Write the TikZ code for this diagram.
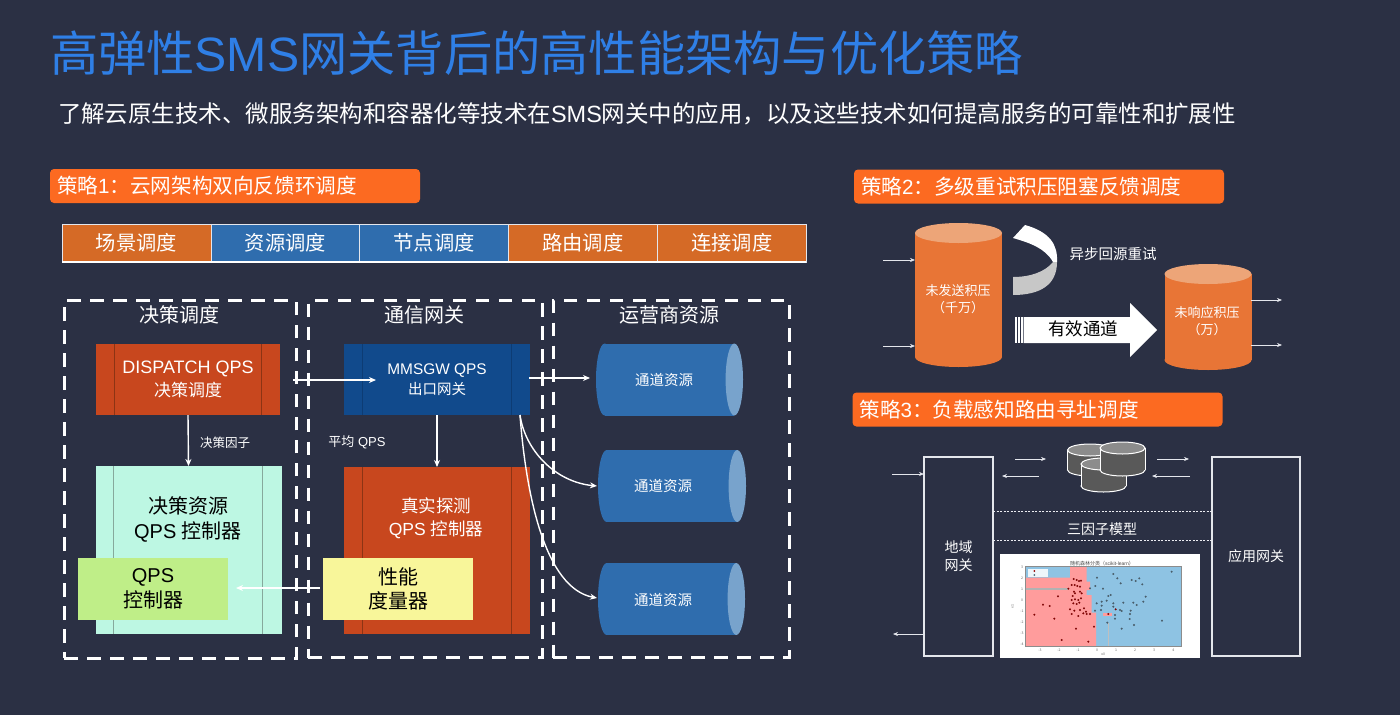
\documentclass[tikz,border=0pt]{standalone}
\usepackage{fontspec}
\setmainfont{Noto Sans CJK SC}
\newfontfamily\latinfont{Liberation Sans}
\usepackage{xcolor}
\usetikzlibrary{arrows.meta}
\definecolor{slidebg}{HTML}{2B3044}
\definecolor{titleblue}{HTML}{2F7FE6}
\definecolor{tagorange}{HTML}{FC6A21}
\definecolor{cellorange}{HTML}{D56A26}
\definecolor{cellblue}{HTML}{2F6DAE}
\definecolor{redbox}{HTML}{C8471E}
\definecolor{redbar}{HTML}{8C3414}
\definecolor{navybox}{HTML}{114A8C}
\definecolor{navybar}{HTML}{0D3C74}
\definecolor{tealbox}{HTML}{BDF7E3}
\definecolor{tealbar}{HTML}{86A99C}
\definecolor{greenbox}{HTML}{BFEE88}
\definecolor{yellowbox}{HTML}{F8F69A}
\definecolor{tankbody}{HTML}{E87536}
\definecolor{tanktop}{HTML}{EDA578}
\definecolor{channelend}{HTML}{78A3CC}
\definecolor{softwhite}{HTML}{E4E6EC}
\definecolor{chartblue}{HTML}{8EC3E3}
\definecolor{chartred}{HTML}{FF9C9C}
\newcommand{\fsz}[1]{\fontsize{#1}{#1}\selectfont}
\newcommand{\lat}[1]{{\latinfont #1}}
% lying drum: left x, right x, centre y
\newcommand{\channeldrum}[3]{
 \fill[cellblue] (#1+8.7,#3) ellipse (8.7pt and 36pt);
 \fill[cellblue] (#1+8.7,#3-36) rectangle (#2-8.7,#3+36);
 \fill[channelend] (#2-8.7,#3) ellipse (8.7pt and 36pt);
}
% standing drum: centre x, top y, bottom y
\newcommand{\tankdrum}[3]{
 \fill[tankbody] (#1,#3-10) ellipse (43.5pt and 10pt);
 \fill[tankbody] (#1-43.5,#2+10) rectangle (#1+43.5,#3-10);
 \fill[tanktop] (#1,#2+10) ellipse (43.5pt and 10pt);
}
\newcommand{\diskdrum}[3]{
 \draw[diskline,fill=black!65] (#1,#3-6) ellipse (22.5pt and 6pt);
 \fill[black!65] (#1-22.5,#2+6) rectangle (#1+22.5,#3-6);
 \draw[diskline] (#1-22.5,#2+6)--(#1-22.5,#3-6) (#1+22.5,#2+6)--(#1+22.5,#3-6);
 \draw[diskline,fill=black!45] (#1,#2+6) ellipse (22.5pt and 6pt);
}
\tikzset{
 every node/.style={inner sep=0pt,outer sep=0pt,text=white},
 zonebox/.style={draw=white,line width=3pt,dash pattern=on 13.5pt off 9.5pt},
 tagbox/.style={fill=tagorange,rounded corners=4pt,minimum width=370,minimum height=34,
  text width=356,align=left,font=\fsz{20.6}},
 schedcell/.style={draw=softwhite,line width=.8pt,minimum width=148.8,minimum height=38,font=\fsz{20.3}},
 procbox/.style={minimum width=186,minimum height=71,align=center,
  path picture={\draw[#1]
   ([xshift=18pt]path picture bounding box.north west)--([xshift=18pt]path picture bounding box.south west)
   ([xshift=-19pt]path picture bounding box.north east)--([xshift=-19pt]path picture bounding box.south east);}},
 notebox/.style={minimum width=150,minimum height=62,text=black,font=\fsz{20},align=center},
 link/.style={draw=white,line width=1.4pt,-{Stealth[length=7pt,width=6pt]}},
 thinlink/.style={draw=softwhite,line width=.6pt,-{Stealth[length=5pt,width=4pt]}},
 diskline/.style={draw=white,line width=1pt},
 gatebox/.style={draw=softwhite,line width=1.3pt,minimum height=199,font=\fsz{14},align=center},
 redpt/.style={fill=red!60!black,draw=red!40!black,line width=.15pt},
 bluept/.style={fill=cyan!40!black,draw=cyan!25!black,line width=.15pt},
 ticklabel/.style={text=black!60,font=\fsz{3.5}}
}
\begin{document}
\begin{tikzpicture}[x=1pt,y=-1pt]
 \fill[slidebg] (0,0) rectangle (1400,715);
 \useasboundingbox (0,0) rectangle (1400,715);
 \node[anchor=west,text=titleblue,font=\fsz{48.25}] (title) at (50,53) {高弹性\lat{SMS}网关背后的高性能架构与优化策略};
 \node[anchor=west,font=\fsz{23.48}] (subtitle) at (58,114) {了解云原生技术、微服务架构和容器化等技术在\lat{SMS}网关中的应用，以及这些技术如何提高服务的可靠性和扩展性};
 \node[tagbox] (tag1) at (235,186) {策略\lat{1}：云网架构双向反馈环调度};
 \node[tagbox] (tag2) at (1039,186.5) {策略\lat{2}：多级重试积压阻塞反馈调度};
 \node[tagbox] (tag3) at (1037.5,409.5) {策略\lat{3}：负载感知路由寻址调度};

 \foreach \cellname/\celltext/\cellfill [count=\i from 0] in {scene/场景调度/cellorange,res/资源调度/cellblue,
   point/节点调度/cellblue,route/路由调度/cellorange,conn/连接调度/cellorange}
  \node[schedcell,fill=\cellfill] (\cellname) at (136.5+148.8*\i,243) {\raisebox{1pt}{\celltext}};
 \draw[white,line width=2pt] (scene.south west)--(conn.south east);

 \node[zonebox,minimum width=232,minimum height=357.5] (zone1) at (180,479.5) {};
 \node[zonebox,minimum width=234,minimum height=357] (zone2) at (425,479) {};
 \node[zonebox,minimum width=236,minimum height=357] (zone3) at (671,479) {};
 \node[font=\fsz{20}] (zone1 name) at (179,315) {决策调度};
 \node[font=\fsz{20}] (zone2 name) at (424,315) {通信网关};
 \node[font=\fsz{20}] (zone3 name) at (669,315) {运营商资源};

 \node[procbox=redbar,fill=redbox,minimum width=184] (dispatch) at (188,379.5)
  {\fsz{18}\lat{DISPATCH QPS}\\[4pt]\fsz{17}决策调度};
 \node[procbox=navybar,fill=navybox] (mmsgw) at (437,379.7)
  {\fsz{15.4}\lat{MMSGW QPS}\\[4pt]\fsz{14.5}出口网关};
 \node[procbox=tealbar,fill=tealbox,minimum height=168] (decision) at (188.5,550) {};
 \node[procbox=redbar,fill=redbox,minimum height=167] (probe) at (437,550.5) {};
 \node[text=black,align=center,font=\fsz{20}] (decision name) at (188,519) {决策资源\\[5pt]\lat{QPS\ }控制器};
 \node[align=center,font=\fsz{17.5}] (probe name) at (436,518) {真实探测\\[5pt]\lat{QPS\ }控制器};
 \node[notebox,fill=greenbox] (ctrl) at (153,589) {\lat{QPS}\\[4pt]控制器};
 \node[notebox,fill=yellowbox] (meter) at (398,589) {性能\\[4pt]度量器};
 \node[font=\fsz{12.5}] (factor) at (225,443) {决策因子};
 \node[font=\fsz{13}] (avgqps) at (357,442) {平均\lat{\ QPS}};

 \channeldrum{596}{743}{379.5}
 \channeldrum{598}{746}{486}
 \channeldrum{598}{745}{599}
 \node[font=\fsz{14.5}] (ch1 name) at (664,380) {通道资源};
 \node[font=\fsz{14.5}] (ch2 name) at (663,486) {通道资源};
 \node[font=\fsz{14.5}] (ch3 name) at (663,600) {通道资源};

 \coordinate (disp out) at (293,380);
 \coordinate (mmsgw in) at (376,380);
 \coordinate (mmsgw out) at (529,378);
 \coordinate (mmsgw low) at (520,415);
 \coordinate (ch1 in) at (590,378);
 \coordinate (ch2 in) at (597,486);
 \coordinate (ch3 in) at (597,598);
 \coordinate (meter out) at (320,588);
 \coordinate (ctrl in) at (236,588);
 \draw[link] (disp out)--(mmsgw in);
 \draw[link] (mmsgw out)--(ch1 in);
 \draw[link] (dispatch.south)--(decision.north);
 \draw[link] (mmsgw.south)--(probe.north);
 \draw[link] (mmsgw low) .. controls (525,450) and (555,482) .. (ch2 in);
 \draw[link] (mmsgw low) .. controls (526,495) and (545,588) .. (ch3 in);
 \draw[link] (meter out)--(ctrl in);

 \tankdrum{958.5}{223}{367}
 \tankdrum{1208}{264}{370}
 \node[align=center,font=\fsz{13}] (backlog name) at (958,299.5) {未发送积压\\[4pt]（千万）};
 \node[align=center,font=\fsz{13}] (pending name) at (1207,321) {未响应积压\\[4pt]（万）};
 \fill[white] (1025,225) .. controls (1050,232) and (1058,245) .. (1057,262)
  -- (1053,262) .. controls (1045,248) and (1030,243) .. (1013,238) -- cycle;
 \fill[black!22] (1053,262) -- (1057,262) .. controls (1057,285) and (1040,295) .. (1013,295)
  -- (1013,277) .. controls (1030,277) and (1045,272) .. (1053,262) -- cycle;
 \node[font=\fsz{14.5}] (retry) at (1113,254) {异步回源重试};
 \foreach \barx in {1015,1018.2,1021.2}
  \fill[white] (\barx,317) rectangle (\barx+1.6,343);
 \fill[white] (1023.5,317)--(1130,317)--(1130,303)--(1157,330)--(1130,357)--(1130,343)--(1023.5,343)--cycle;
 \node[text=black,font=\fsz{17.5}] (valid name) at (1083,329) {有效通道};
 \foreach \y [count=\i] in {260,346}{
  \coordinate (src\i) at (883,\y);
  \coordinate (dst\i) at (915,\y);
  \draw[thinlink] (src\i)--(dst\i);
 }
 \foreach \y [count=\i] in {300,345}{
  \coordinate (out\i) at (1251,\y);
  \coordinate (end\i) at (1282,\y);
  \draw[thinlink] (out\i)--(end\i);
 }

 \node[gatebox,minimum width=69] (region) at (958.5,556.5) {地域\\[4pt]网关};
 \node[gatebox,minimum width=88] (appgw) at (1256,556.5) {应用网关};
 \draw[softwhite!75,line width=.4pt,dash pattern=on 2pt off 1.5pt] (993,511)--(1212,511) (993,540)--(1212,540);
 \node[font=\fsz{14}] (factors) at (1102,529) {三因子模型};
 \diskdrum{1090}{444}{476}
 \diskdrum{1103.5}{458}{492}
 \diskdrum{1122.5}{442}{476}
 \coordinate (a1) at (892,474);
 \coordinate (a2) at (1015,459);
 \coordinate (a3) at (1046,459);
 \coordinate (a4) at (1039,476);
 \coordinate (a5) at (1002,476);
 \coordinate (a6) at (1157,459);
 \coordinate (a7) at (1189,459);
 \coordinate (a8) at (1190,476);
 \coordinate (a9) at (1152,476);
 \coordinate (a10) at (925,634);
 \coordinate (a11) at (893,634);
 \coordinate (a12) at (924,474);
 \draw[thinlink] (a1)--(a12);
 \draw[thinlink] (a2)--(a3);
 \draw[thinlink] (a4)--(a5);
 \draw[thinlink] (a6)--(a7);
 \draw[thinlink] (a8)--(a9);
 \draw[thinlink] (a10)--(a11);

 \begin{scope}[shift={(980,540)},x=.3333pt,y=-.3333pt]
  \fill[white] (60,42) rectangle (660,355);
  \fill[chartblue] (137,80) rectangle (603,320);
  \fill[chartred] (137,113)--(270,113)--(270,80)--(320,80)--(320,125)--(330,125)--(330,150)
   --(320,150)--(320,165)--(335,165)--(335,218)--(348,218)--(348,320)--(137,320)--cycle;
  \fill[chartred] (368,219) rectangle (396,228);
  \fill[black!30] (137,143) rectangle (265,150);
  \fill[black!25] (383,250) rectangle (388,320);
  \draw[black!45,line width=.5pt] (137,80) rectangle (603,320);
  \fill[white!85!chartblue] (145,86) rectangle (205,112);
  \fill[red!60!black] (163,93) circle (1pt);
  \fill[cyan!40!black] (163,105) circle (1pt);
  \foreach \px/\py in {163/224,189/194,209/198,234/169,223/236,245/300,288/266,325/305,342/260,385/222,
    407/208,281/117,290/120,297/123,303/122,275/135,284/135,292/138,300/140,265/146,282/155,300/155,
    285/160,278/168,305/160,275/180,285/178,295/180,303/175,280/190,290/192,298/188,270/208,283/212,
    300/210,312/205,318/215,275/222,295/228,310/220,320/222,330/222}
   \fill[redpt] (\px,\py) circle (.9pt);
  \foreach \px/\py in {400/102,412/115,422/130,455/120,467/123,478/115,487/133,575/95,351/113,346/138,
    369/146,330/145,385/168,392/165,380/182,365/185,365/197,350/190,400/190,430/188,460/188,470/195,
    490/185,497/170,345/212,363/210,400/200,405/225,420/210,425/213,452/212,450/222,405/236,382/248,
    449/237,462/255,425/266,546/242}
   \fill[bluept] (\px,\py) circle (.9pt);
  \node[text=black!70,font=\fsz{5}] (chart title) at (366,71) {随机森林分类（\lat{scikit-learn}）};
  \foreach \tx/\tl [count=\i] in {180/-3,237/-2,294/-1,351/0,408/1,465/2,522/3,580/4}
   \node[ticklabel] (xtick\i) at (\tx,330) {\tl};
  \foreach \ty/\tl [count=\i] in {83/3,116/2,149/1,182/0,215/-1,248/-2,281/-3,314/-4}
   \node[ticklabel] (ytick\i) at (126,\ty) {\tl};
  \node[ticklabel] (chart x) at (370,342) {x0};
  \node[ticklabel,rotate=90] (chart y) at (97,200) {x1};
 \end{scope}
\end{tikzpicture}
\end{document}
